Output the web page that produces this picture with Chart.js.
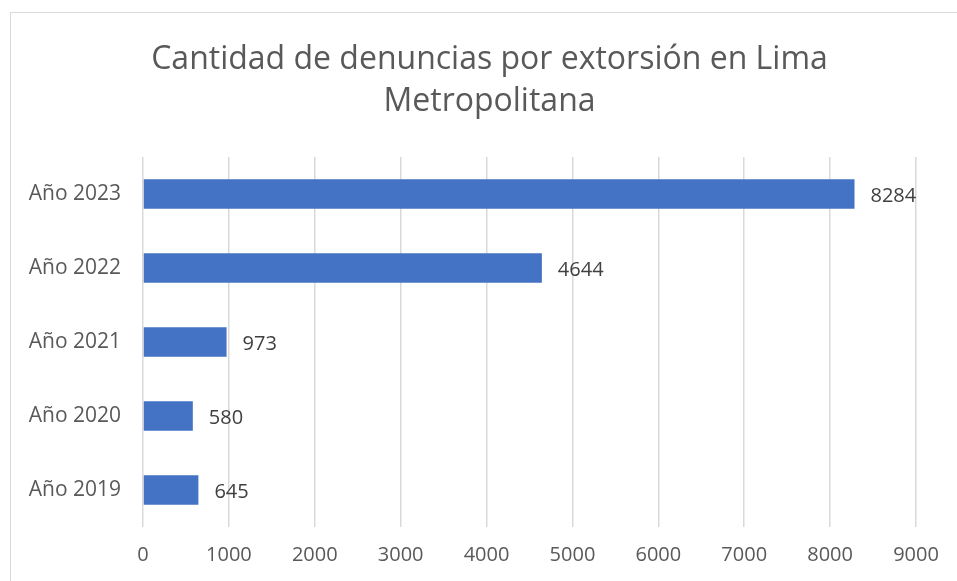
<!DOCTYPE html>
<html>
<head>
<meta charset="utf-8">
<script src="https://cdn.jsdelivr.net/npm/chart.js@4/dist/chart.umd.min.js"></script>
<style>
  html, body { margin: 0; padding: 0; background: #ffffff; }
  #frame { position: absolute; left: 10px; top: 12px; width: 980px; height: 600px; border: 1px solid #d9d9d9; box-sizing: border-box; }
  #wrap { position: absolute; left: 0; top: 0; width: 957px; height: 581px; }
</style>
</head>
<body>
<div id="frame"></div>
<div id="wrap"><canvas id="c" width="957" height="581"></canvas></div>
<script>
const categories = ['Año 2019', 'Año 2020', 'Año 2021', 'Año 2022', 'Año 2023'];
const values = [645, 580, 973, 4644, 8284];
const titleLines = ['Cantidad de denuncias por extorsión en Lima', 'Metropolitana'];
const FONT = "'Open Sans', sans-serif";

const valueLabels = {
  id: 'valueLabels',
  afterDatasetsDraw(chart) {
    const ctx = chart.ctx;
    const meta = chart.getDatasetMeta(0);
    ctx.save();
    ctx.font = "20px " + FONT;
    ctx.fillStyle = '#404040';
    ctx.textAlign = 'left';
    ctx.textBaseline = 'middle';
    meta.data.forEach((bar, i) => {
      ctx.fillText(String(chart.data.datasets[0].data[i]), bar.x + 16, bar.y + 2);
    });
    ctx.restore();
  }
};

// Title centred on the full (uncropped) chart frame, like the original
const frameTitle = {
  id: 'frameTitle',
  afterDraw(chart) {
    const ctx = chart.ctx;
    ctx.save();
    ctx.font = "32px " + FONT;
    ctx.fillStyle = '#595959';
    ctx.textAlign = 'center';
    ctx.textBaseline = 'middle';
    const cx = (chart.width + 22) / 2;
    titleLines.forEach((t, i) => ctx.fillText(t, cx, 60 + i * 42));
    ctx.restore();
  }
};

new Chart(document.getElementById('c'), {
  type: 'bar',
  data: {
    labels: categories,
    datasets: [{
      data: values,
      backgroundColor: '#4472C4',
      borderWidth: 0,
      categoryPercentage: 1,
      barPercentage: 0.4
    }]
  },
  options: {
    indexAxis: 'y',
    responsive: false,
    animation: false,
    layout: { padding: { left: 0, right: 41, top: 157, bottom: 0 } },
    plugins: {
      legend: { display: false },
      tooltip: { enabled: false },
      title: { display: false }
    },
    scales: {
      x: {
        min: 0, max: 9000,
        ticks: {
          stepSize: 1000, color: '#595959', font: { family: FONT, size: 20 }, padding: 16, maxRotation: 0,
          callback: (v) => String(v)
        },
        grid: { color: '#d9d9d9', lineWidth: 1.5, drawTicks: false },
        border: { display: false },
        afterFit(s) { s.height = 54; }
      },
      y: {
        reverse: true,
        ticks: { color: '#595959', font: { family: FONT, size: 21 }, padding: 22 },
        grid: { display: false, drawTicks: false },
        border: { display: false },
        afterFit(s) { s.width = 143; }
      }
    }
  },
  plugins: [valueLabels, frameTitle]
});
</script>
</body>
</html>
